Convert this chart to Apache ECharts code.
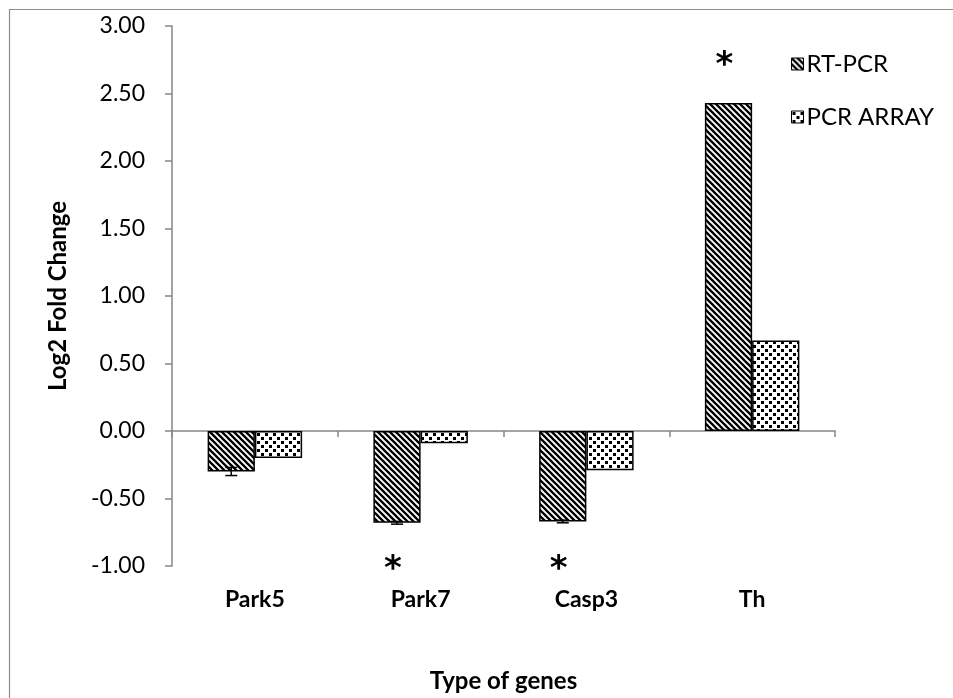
<!DOCTYPE html>
<html>
<head>
<meta charset="utf-8">
<script src="https://cdn.jsdelivr.net/npm/echarts@6/dist/echarts.min.js"></script>
<style>html,body{margin:0;padding:0;background:#fff;}#c{width:953px;height:698px;}</style>
</head>
<body>
<div id="c"></div>
<script>
var categories = ['Park5', 'Park7', 'Casp3', 'Th'];
var rtPcr = [-0.30, -0.68, -0.67, 2.43];
var pcrArray = [-0.20, -0.09, -0.29, 0.67];
var rtErr = [0.03, 0.01, 0.01, 0];
var pcrErr = [0, 0, 0, 0];
// significance asterisks: [categoryIndex, seriesIndex(0=RT-PCR), y value]
var stars = [[1, 0, -0.96], [2, 0, -0.96], [3, 0, 2.77]];

function hatchPattern() {
  var c = document.createElement('canvas');
  c.width = 6; c.height = 6;
  var g = c.getContext('2d');
  g.fillStyle = '#fff'; g.fillRect(0, 0, 6, 6);
  g.strokeStyle = '#000'; g.lineWidth = 2.3;
  g.beginPath();
  g.moveTo(-1, -1); g.lineTo(7, 7);
  g.moveTo(-4, 2); g.lineTo(2, 8);
  g.moveTo(2, -4); g.lineTo(8, 2);
  g.stroke();
  return c;
}
function dotPattern() {
  var c = document.createElement('canvas');
  c.width = 8; c.height = 8;
  var g = c.getContext('2d');
  g.fillStyle = '#fff'; g.fillRect(0, 0, 8, 8);
  g.fillStyle = '#000';
  g.fillRect(1, 1, 3, 3);
  g.fillRect(5, 5, 3, 3);
  return c;
}

var FONT = 'Lato, "Open Sans", sans-serif';
var chart = echarts.init(document.getElementById('c'), null, {renderer: 'canvas'});
var GAP = 0.43;

function barCenter(api, ci, si) {
  var p = api.coord([ci, 0]);
  var band = api.size([1, 0])[0];
  var w = band * (1 - GAP) / 2;
  return p[0] + (si === 0 ? -w / 2 : w / 2);
}

var errData = [];
for (var i = 0; i < categories.length; i++) {
  if (rtErr[i] > 0) errData.push([i, 0, rtPcr[i], rtErr[i]]);
  if (pcrErr[i] > 0) errData.push([i, 1, pcrArray[i], pcrErr[i]]);
}

chart.setOption({
  animation: false,
  backgroundColor: '#fff',
  graphic: [{
    type: 'rect', left: 7, top: 7, shape: {width: 1000, height: 1000},
    style: {fill: 'none', stroke: '#8c8c8c', lineWidth: 1.2}, z: -10, silent: true
  }],
  legend: {
    orient: 'vertical', left: 786, top: 47, itemWidth: 12, itemHeight: 12, itemGap: 29, icon: 'rect',
    textStyle: {fontFamily: FONT, fontSize: 24, color: '#000', padding: [0, 0, 0, -2]},
    itemStyle: {borderColor: '#000', borderWidth: 1},
    data: ['RT-PCR', 'PCR ARRAY']
  },
  grid: {left: 172, top: 26, right: 118, bottom: 129, containLabel: false},
  xAxis: [{
    type: 'category', data: categories, position: 'bottom',
    axisLine: {onZero: true, lineStyle: {color: '#868686', width: 1.5}},
    axisTick: {show: true, alignWithLabel: false, length: 6, lineStyle: {color: '#868686', width: 1.5}},
    axisLabel: {show: false}
  }, {
    type: 'category', data: categories, position: 'bottom',
    axisLine: {show: false, onZero: false}, axisTick: {show: false},
    axisLabel: {show: true, margin: 22, fontFamily: FONT, fontSize: 23, fontWeight: 'bold', color: '#000'},
    name: 'Type of genes', nameLocation: 'middle', nameGap: 103,
    nameTextStyle: {fontFamily: FONT, fontSize: 24, fontWeight: 'bold', color: '#000'}
  }],
  yAxis: {
    type: 'value', min: -1, max: 3, interval: 0.5,
    axisLine: {show: true, lineStyle: {color: '#868686', width: 1.5}},
    axisTick: {show: true, length: 7, lineStyle: {color: '#868686', width: 1.5}},
    splitLine: {show: false},
    axisLabel: {margin: 27, fontFamily: FONT, fontSize: 23, color: '#000',
      formatter: function (v) { return v.toFixed(2); }},
    name: 'Log2 Fold Change', nameLocation: 'middle', nameGap: 102,
    nameTextStyle: {fontFamily: FONT, fontSize: 24, fontWeight: 'bold', color: '#000'}
  },
  series: [{
    name: 'RT-PCR', type: 'bar', data: rtPcr, barGap: 0, barCategoryGap: (GAP * 100) + '%',
    itemStyle: {color: {image: hatchPattern(), repeat: 'repeat'}, borderColor: '#000', borderWidth: 1.5}
  }, {
    name: 'PCR ARRAY', type: 'bar', data: pcrArray, barGap: 0, barCategoryGap: (GAP * 100) + '%',
    itemStyle: {color: {image: dotPattern(), repeat: 'repeat'}, borderColor: '#000', borderWidth: 1.5}
  }, {
    type: 'custom', data: errData, z: 10, silent: true,
    renderItem: function (params, api) {
      var ci = api.value(0), si = api.value(1), v = api.value(2), e = api.value(3);
      var x = barCenter(api, ci, si);
      var y1 = api.coord([ci, v - e])[1], y2 = api.coord([ci, v + e])[1];
      var style = {stroke: '#000', lineWidth: 1.5};
      return {type: 'group', children: [
        {type: 'line', shape: {x1: x, y1: y1, x2: x, y2: y2}, style: style},
        {type: 'line', shape: {x1: x - 6, y1: y1, x2: x + 6, y2: y1}, style: style},
        {type: 'line', shape: {x1: x - 6, y1: y2, x2: x + 6, y2: y2}, style: style}
      ]};
    }
  }, {
    type: 'custom', data: stars, z: 10, silent: true,
    renderItem: function (params, api) {
      var ci = api.value(0), si = api.value(1), v = api.value(2);
      var fs = 34;
      var x = barCenter(api, ci, si) - 4;
      var y = api.coord([ci, v])[1] + fs * 0.28;
      return {type: 'text', x: x, y: y, style: {text: '*', fontSize: fs, fontWeight: 'bold',
        fontFamily: '"DejaVu Sans", sans-serif',
        fill: '#000', align: 'center', verticalAlign: 'middle'}};
    }
  }]
});
</script>
</body>
</html>
